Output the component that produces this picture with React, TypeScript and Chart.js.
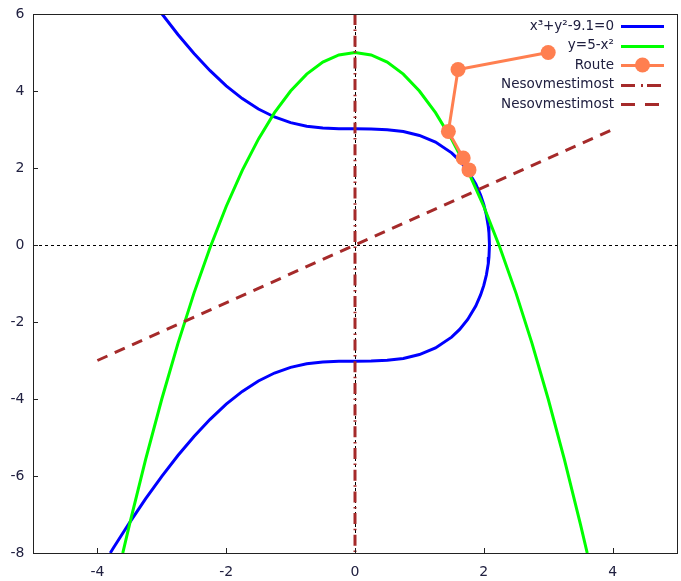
import React, { useEffect, useRef } from "react";
import { Chart, registerables } from "chart.js";

Chart.register(...registerables);

// x^3 + y^2 - 9.1 = 0 (upper branch left→right, then lower branch right→left)
const curveX = [
  -2.996, -2.75, -2.5, -2.25, -2.0, -1.75, -1.5, -1.25, -1.0, -0.75, -0.5, -0.25, 0, 0.25, 0.5, 0.75,
  1.0, 1.25, 1.5, 1.625, 1.75, 1.875, 1.95, 2.0, 2.04, 2.07, 2.08, 2.088,
  2.08, 2.07, 2.04, 2.0, 1.95, 1.875, 1.75, 1.625, 1.5, 1.25, 1.0, 0.75, 0.5, 0.25, 0, -0.25, -0.5,
  -0.75, -1.0, -1.25, -1.5, -1.75, -2.0, -2.25, -2.5, -2.75, -3.0, -3.25, -3.5, -3.75, -3.8,
];
const curveY = [
  6.0, 5.468, 4.972, 4.527, 4.135, 3.803, 3.532, 3.325, 3.178, 3.086, 3.037, 3.019, 3.017, 3.014, 2.996, 2.946,
  2.846, 2.673, 2.393, 2.193, 1.934, 1.584, 1.298, 1.049, 0.781, 0.48, 0.318, 0,
  -0.318, -0.48, -0.781, -1.049, -1.298, -1.584, -1.934, -2.193, -2.393, -2.673, -2.846, -2.946, -2.996, -3.014, -3.017, -3.019, -3.037,
  -3.086, -3.178, -3.325, -3.532, -3.803, -4.135, -4.527, -4.972, -5.468, -6.008, -6.59, -7.209, -7.863, -7.998,
];

// y = 5 - x^2
const parabolaX = [
  -3.606, -3.5, -3.25, -3.0, -2.75, -2.5, -2.25, -2.0, -1.75, -1.5, -1.25, -1.0, -0.75, -0.5, -0.25, 0,
  0.25, 0.5, 0.75, 1.0, 1.25, 1.5, 1.75, 2.0, 2.25, 2.5, 2.75, 3.0, 3.25, 3.5, 3.606,
];
const parabolaY = [
  -8.0, -7.25, -5.5625, -4.0, -2.5625, -1.25, -0.0625, 1.0, 1.9375, 2.75, 3.4375, 4.0, 4.4375, 4.75, 4.9375, 5.0,
  4.9375, 4.75, 4.4375, 4.0, 3.4375, 2.75, 1.9375, 1.0, -0.0625, -1.25, -2.5625, -4.0, -5.5625, -7.25, -8.0,
];

// Route
const routeX = [3.0, 1.6, 1.45, 1.68, 1.77];
const routeY = [5.0, 4.56, 2.95, 2.26, 1.95];

// Nesovmestimost (dash-dot vertical) and (dashed diagonal)
const vertX = [0, 0];
const vertY = [6, -8];
const diagX = [-4, 4];
const diagY = [-3, 3];

const xTicks = [-4, -2, 0, 2, 4];
const yTicks = [-8, -6, -4, -2, 0, 2, 4, 6];

const legendLabels = ["x³+y²-9.1=0", "y=5-x²", "Route", "Nesovmestimost", "Nesovmestimost"];

const BLUE = "#0000ff";
const GREEN = "#00ff00";
const CORAL = "#ff7f50";
const BROWN = "#a52a2a";
const TEXT = "#202040";
const FRAME = "#222222";

const zip = (xs: number[], ys: number[]) => xs.map((x, i) => ({ x, y: ys[i] }));

const framePlugin = {
  id: "gnuplotFrame",
  beforeDatasetsDraw(chart: any) {
    const { ctx, chartArea, scales } = chart;
    const { left, right, top, bottom } = chartArea;
    ctx.save();
    ctx.strokeStyle = "#000000";
    ctx.lineWidth = 1;
    ctx.setLineDash([3, 3]);
    const y0 = Math.round(scales.y.getPixelForValue(0)) + 0.5;
    ctx.beginPath();
    ctx.moveTo(left, y0);
    ctx.lineTo(right, y0);
    ctx.stroke();
    const x0 = Math.round(scales.x.getPixelForValue(0)) + 0.5;
    ctx.beginPath();
    ctx.moveTo(x0, top);
    ctx.lineTo(x0, bottom);
    ctx.stroke();
    ctx.restore();
  },
  afterDraw(chart: any) {
    const { ctx, chartArea, scales } = chart;
    const { left, right, top, bottom } = chartArea;
    ctx.save();
    ctx.strokeStyle = FRAME;
    ctx.lineWidth = 1;
    ctx.setLineDash([]);
    ctx.strokeRect(Math.round(left) + 0.5, Math.round(top) + 0.5, Math.round(right - left), Math.round(bottom - top));
    ctx.beginPath();
    for (const v of yTicks) {
      const p = Math.round(scales.y.getPixelForValue(v)) + 0.5;
      ctx.moveTo(left, p);
      ctx.lineTo(left + 5, p);
    }
    for (const v of xTicks) {
      const p = Math.round(scales.x.getPixelForValue(v)) + 0.5;
      ctx.moveTo(p, bottom);
      ctx.lineTo(p, bottom - 5);
    }
    ctx.stroke();

    // legend
    const styles = [
      { color: BLUE, dash: [] as number[], marker: false },
      { color: GREEN, dash: [] as number[], marker: false },
      { color: CORAL, dash: [] as number[], marker: true },
      { color: BROWN, dash: [14, 6, 2, 4], marker: false },
      { color: BROWN, dash: [14, 10], marker: false },
    ];
    ctx.font = '13.5px "DejaVu Sans"';
    ctx.textAlign = "right";
    ctx.textBaseline = "middle";
    legendLabels.forEach((label, i) => {
      const y = 26 + i * 19.5;
      ctx.fillStyle = TEXT;
      ctx.fillText(label, 614, y);
      const s = styles[i];
      ctx.strokeStyle = s.color;
      ctx.lineWidth = 3;
      ctx.setLineDash(s.dash);
      ctx.beginPath();
      ctx.moveTo(621, Math.round(y) + 0.5);
      ctx.lineTo(664, Math.round(y) + 0.5);
      ctx.stroke();
      if (s.marker) {
        ctx.fillStyle = s.color;
        ctx.beginPath();
        ctx.arc(642.5, y, 7.5, 0, Math.PI * 2);
        ctx.fill();
      }
    });
    ctx.restore();
  },
};

export default function App() {
  const ref = useRef<HTMLCanvasElement | null>(null);

  useEffect(() => {
    if (!ref.current) return;
    const chart = new Chart(ref.current, {
      type: "scatter",
      data: {
        datasets: [
          {
            label: legendLabels[0],
            data: zip(curveX, curveY),
            showLine: true,
            borderColor: BLUE,
            borderWidth: 3,
            pointRadius: 0,
            tension: 0,
            order: 5,
          },
          {
            label: legendLabels[1],
            data: zip(parabolaX, parabolaY),
            showLine: true,
            borderColor: GREEN,
            borderWidth: 3,
            pointRadius: 0,
            tension: 0,
            order: 4,
          },
          {
            label: legendLabels[2],
            data: zip(routeX, routeY),
            showLine: true,
            borderColor: CORAL,
            backgroundColor: CORAL,
            borderWidth: 3,
            pointRadius: 7.5,
            pointBackgroundColor: CORAL,
            pointBorderWidth: 0,
            order: 3,
          },
          {
            label: legendLabels[3],
            data: zip(vertX, vertY),
            showLine: true,
            borderColor: BROWN,
            borderWidth: 3,
            borderDash: [11, 4.6, 1.5, 4.6],
            pointRadius: 0,
            order: 2,
          },
          {
            label: legendLabels[4],
            data: zip(diagX, diagY),
            showLine: true,
            borderColor: BROWN,
            borderWidth: 3,
            borderDash: [11, 8],
            pointRadius: 0,
            order: 1,
          },
        ],
      },
      options: {
        animation: false,
        responsive: false,
        maintainAspectRatio: false,
        layout: { autoPadding: false, padding: { top: 14, right: 4, left: 0, bottom: 0 } },
        plugins: { legend: { display: false }, tooltip: { enabled: false } },
        scales: {
          x: {
            type: "linear",
            min: -5,
            max: 5,
            afterBuildTicks: (s: any) => {
              s.ticks = xTicks.map((v) => ({ value: v }));
            },
            afterFit: (s: any) => {
              s.height = 28;
              s.paddingLeft = 0;
              s.paddingRight = 0;
            },
            grid: { display: false, drawTicks: false },
            border: { display: false },
            ticks: {
              color: TEXT,
              font: { family: "DejaVu Sans", size: 14 },
              padding: 11,
              maxRotation: 0,
              autoSkip: false,
            },
          },
          y: {
            type: "linear",
            min: -8,
            max: 6,
            afterBuildTicks: (s: any) => {
              s.ticks = yTicks.map((v) => ({ value: v }));
            },
            afterFit: (s: any) => {
              s.width = 33;
              s.paddingTop = 0;
              s.paddingBottom = 0;
            },
            grid: { display: false, drawTicks: false },
            border: { display: false },
            ticks: {
              color: TEXT,
              font: { family: "DejaVu Sans", size: 14 },
              padding: 8.5,
              autoSkip: false,
            },
          },
        },
      },
      plugins: [framePlugin],
    });
    return () => chart.destroy();
  }, []);

  return (
    <div style={{ position: "absolute", left: 0, top: 0, width: 681, height: 581, background: "#ffffff" }}>
      <canvas ref={ref} width={681} height={581} style={{ width: 681, height: 581, display: "block" }} />
    </div>
  );
}
